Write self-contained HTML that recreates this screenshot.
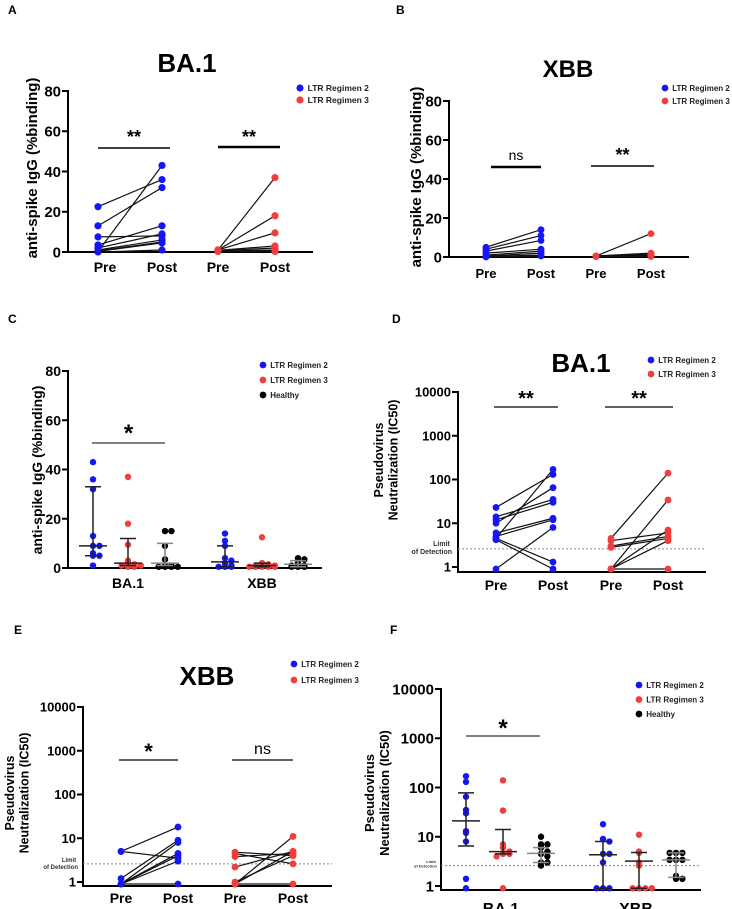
<!DOCTYPE html>
<html><head><meta charset="utf-8">
<style>
html,body{margin:0;padding:0;background:#fff;}
svg{display:block;font-family:"Liberation Sans",Arial,sans-serif;}
</style></head>
<body>
<svg id="fig" width="732" height="909" viewBox="0 0 732 909" xmlns="http://www.w3.org/2000/svg"></svg>
<script>
// ---------- DATA ----------
const aBluePre  = [22.5, 13, 7.5, 3.5, 2, 1, 0.5, 0.3, 0.2, 0];
const aBluePost = [36, 32, 8, 13, 9, 6, 5, 4.5, 43, 1];
const aRedPre   = [1, 1, 1, 0.8, 0.6, 0.5, 0.4, 0.3];
const aRedPost  = [37, 18, 9.5, 3, 2, 1, 0.5, 0.3];
const bBluePre  = [5, 4, 3, 2, 1, 0.5, 0.3, 0];
const bBluePost = [14, 11, 8.5, 4, 3, 2, 1, 0.5];
const bRedPre   = [0.5, 0.5, 0.5, 0.4, 0.3, 0.2];
const bRedPost  = [12, 2, 1.5, 1, 0.5, 0.3];
const cGroups = ["BA.1", "XBB"];
const cBA1Blue  = [43, 36, 32, 13, 9, 9, 6, 5, 5, 1];
const cBA1Red   = [37, 18, 9.5, 3, 2, 1.5, 1, 1, 0.5, 0.5];
const cBA1Black = [15, 15, 9, 3.5, 1, 1, 0.5, 0.5, 0.5, 0.5];
const cXBBBlue  = [14, 11, 9, 4, 3, 2, 1, 0.5, 0.5, 0.5];
const cXBBRed   = [12.5, 2, 1.5, 1, 1, 0.5, 0.5, 0.5, 0.5, 0.5];
const cXBBBlack = [4, 3.5, 2, 1, 1, 0.5, 0.5, 0.5];
const cMedians  = [9, 2, 2, 2.5, 1, 1.5];
const cLow      = [5, 1, 1, 0.5, 0.5, 0.5];
const cHigh     = [33, 12, 10, 9, 2, 3];
const dBluePre  = [23, 14, 12, 10, 6, 5, 4.5, 4.5, 4.2, 0.9];
const dBluePost = [130, 35, 30, 65, 13, 12, 170, 1.3, 0.9, 8];
const dRedPre   = [4.5, 4, 3, 2.8, 0.9, 0.9, 0.9, 0.9];
const dRedPost  = [140, 6, 5, 4.5, 34, 7, 4, 0.9];
const eBluePre  = [5, 5, 1.2, 0.9, 0.9, 0.9, 0.9, 0.9];
const eBluePost = [18, 3.5, 9, 8, 4.5, 4, 3, 0.9];
const eRedPre   = [4.8, 4.5, 3.8, 2.2, 1, 0.9, 0.9, 0.9];
const eRedPost  = [4, 2.6, 4.5, 5, 4, 11, 5, 0.9];
const fGroups = ["BA.1", "XBB"];
const fBA1Blue  = [170, 130, 65, 35, 30, 13, 12, 8, 1.4, 0.9];
const fBA1Red   = [140, 34, 7, 6, 5, 4.5, 4.5, 4, 0.9];
const fBA1Black = [10, 7, 7, 6, 5, 4.5, 4, 3, 3, 2.6];
const fXBBBlue  = [18, 9, 8, 4.5, 4.5, 3, 0.9, 0.9, 0.9];
const fXBBRed   = [11, 5, 4.7, 3, 2.6, 0.9, 0.9, 0.9, 0.9];
const fXBBBlack = [4.7, 4.7, 4.7, 3.4, 3.4, 3.4, 1.6, 1.4, 1.4];
const fMedians  = [21, 5, 4.6, 4.3, 3.2, 3.4];
const fLow      = [6.5, 4.5, 3, 0.9, 0.9, 1.5];
const fHigh     = [78, 14, 6, 8, 4.8, 4.7];
const linTicks = [0, 20, 40, 60, 80];
const logTicks = [1, 10, 100, 1000, 10000];
const lodValue = 2.6;

// ---------- HELPERS ----------
const NS = "http://www.w3.org/2000/svg";
const fig = document.getElementById("fig");
const BLUE = "#1616f5", RED = "#f23d3d", BLACK = "#000";
function mk(tag, attrs, parent) {
  const e = document.createElementNS(NS, tag);
  for (const k in attrs) e.setAttribute(k, attrs[k]);
  (parent || fig).appendChild(e);
  return e;
}
function txt(s, attrs, parent) { const e = mk("text", attrs, parent); e.textContent = s; return e; }
function linScale(y0, y80) { return v => y0 + (y80 - y0) * v / 80; }
function logScale(y1, y10000) { return v => y1 + (y10000 - y1) * Math.log10(v) / 4; }

function panel(name) {
  const g = mk("g", {});
  
  
  return g;
}
function axes(g, ax, top, bottom, xEnd, ticks, Y, fs) {
  const a = mk("line", {x1: ax, y1: top - 1, x2: ax, y2: bottom, stroke: "#000", "stroke-width": 2}, g);
  
  
  const b = mk("line", {x1: ax - 1, y1: bottom, x2: xEnd, y2: bottom, stroke: "#000", "stroke-width": 2}, g);
  
  
  ticks.forEach(t => {
    mk("line", {x1: ax - 6, x2: ax, y1: Y(t), y2: Y(t), stroke: "#000", "stroke-width": 2}, g);
    const l = txt(String(t), {x: ax - 7, y: Y(t) + fs * 0.36, "text-anchor": "end", "font-size": fs, "font-weight": "bold"}, g);
    
    
  });
}
function ytitle(g, lines, x, cy, fs) {
  lines.forEach((s, i) => {
    const t = txt(s, {x: 0, y: 0, "text-anchor": "middle", "font-size": fs, "font-weight": "bold",
      transform: `translate(${x + i * fs * 1.15},${cy}) rotate(-90)`}, g);
    
    
  });
}
function legend(g, x, y, items, fs, gap) {
  items.forEach((it, i) => {
    const d = mk("circle", {cx: x, cy: y + i * gap, r: fs * 0.42, fill: it[1]}, g);
    
    
    const t = txt(it[0], {x: x + fs * 0.9, y: y + i * gap + fs * 0.36, "font-size": fs, "font-weight": "bold", fill: "#222"}, g);
    
    
  });
}
function sig(g, label, x1, x2, y, ty, fs, sw) {
  const l = mk("line", {x1, x2, y1: y, y2: y, stroke: "#000", "stroke-width": sw || 1.5}, g);
  
  
  const t = txt(label, {x: (x1 + x2) / 2, y: ty, "text-anchor": "middle", "font-size": fs, "font-weight": label === "ns" ? "normal" : "bold"}, g);
  
  
}
function xlabels(g, labels, xs, y, fs) {
  labels.forEach((s, i) => {
    const t = txt(s, {x: xs[i], y, "text-anchor": "middle", "font-size": fs, "font-weight": "bold"}, g);
    
    
  });
}
function paired(g, pre, post, x1, x2, Y, color, r) {
  pre.forEach((v, i) => {
    const l = mk("line", {x1, x2, y1: Y(v), y2: Y(post[i]), stroke: "#111", "stroke-width": 1.2}, g);
    
    
  });
  pre.forEach(v => {
    const c = mk("circle", {cx: x1, cy: Y(v), r, fill: color}, g);
    
    
  });
  post.forEach(v => {
    const c = mk("circle", {cx: x2, cy: Y(v), r, fill: color}, g);
    
    
  });
}
function scatter(g, vals, cx, Y, color, r, med, lo, hi, errColor) {
  const seen = {};
  vals.forEach((v, i) => {
    const key = Math.round(Y(v) / (r * 1.6));
    const n = seen[key] = (seen[key] || 0) + 1;
    const off = n === 1 ? 0 : (n % 2 === 0 ? 1 : -1) * Math.floor(n / 2) * r * 2;
    const c = mk("circle", {cx: cx + off, cy: Y(v), r, fill: color}, g);
    
    
  });
  const ec = errColor || "#222";
  const e = mk("path", {d: `M${cx},${Y(hi)}V${Y(lo)}M${cx - 8},${Y(hi)}H${cx + 8}M${cx - 8},${Y(lo)}H${cx + 8}M${cx - 14},${Y(med)}H${cx + 14}`,
    stroke: ec, "stroke-width": 1.5, fill: "none"}, g);
  
  
}
function letter(s, x, y) {
  const t = txt(s, {x, y, "font-size": 12, "font-weight": "bold"});
  
  
}
function title(g, s, x, y, fs) {
  const t = txt(s, {x, y, "text-anchor": "middle", "font-size": fs, "font-weight": "bold"}, g);
  
  
}
function lod(g, ax, xEnd, y, lx, ly, fs) {
  const l = mk("line", {x1: ax, x2: xEnd, y1: y, y2: y, stroke: "#888", "stroke-width": 1, "stroke-dasharray": "2,2"}, g);
  
  
  const t1 = txt("Limit", {x: lx - fs * 1.5, y: ly, "text-anchor": "middle", "font-size": fs, "font-weight": "bold", fill: "#333"}, g);
  
  
  const t2 = txt("of Detection", {x: lx, y: ly + fs * 1.15, "text-anchor": "end", "font-size": fs, "font-weight": "bold", fill: "#333"}, g);
  
  
}
const L2 = [["LTR Regimen 2", BLUE], ["LTR Regimen 3", RED]];
const L3 = [["LTR Regimen 2", BLUE], ["LTR Regimen 3", RED], ["Healthy", BLACK]];
const PP = ["Pre", "Post", "Pre", "Post"];

// ---------- PANEL A ----------
letter("A", 8, 14);
(function () {
  const g = panel("panel-a-ba1-igg");
  const Y = linScale(252, 91);
  const xs = [98, 162, 218, 275];
  title(g, "BA.1", 187, 72, 26);
  axes(g, 68, 91, 252, 313, linTicks, Y, 15);
  ytitle(g, ["anti-spike IgG (%binding)"], 37, 168, 15);
  legend(g, 300, 88, L2, 8.5, 12);
  sig(g, "**", 98, 170, 148, 143, 18, 1.5);
  sig(g, "**", 218, 280, 147, 143, 18, 2.5);
  paired(g, aBluePre, aBluePost, xs[0], xs[1], Y, BLUE, 3.6);
  paired(g, aRedPre, aRedPost, xs[2], xs[3], Y, RED, 3.6);
  xlabels(g, PP, [105, 162, 218, 275], 272, 14);
})();

// ---------- PANEL B ----------
letter("B", 396, 14);
(function () {
  const g = panel("panel-b-xbb-igg");
  const Y = linScale(257, 101);
  const xs = [486, 541, 596, 651];
  title(g, "XBB", 568, 77, 24);
  axes(g, 449, 101, 257, 689, linTicks, Y, 15);
  ytitle(g, ["anti-spike IgG (%binding)"], 421, 177, 15);
  legend(g, 665, 88, L2, 8, 13);
  sig(g, "ns", 491, 541, 167, 160, 14, 2.5);
  sig(g, "**", 591, 654, 166, 161, 18, 1.5);
  paired(g, bBluePre, bBluePost, xs[0], xs[1], Y, BLUE, 3.4);
  paired(g, bRedPre, bRedPost, xs[2], xs[3], Y, RED, 3.4);
  xlabels(g, PP, [486, 541, 596, 651], 278, 13);
})();

// ---------- PANEL C ----------
letter("C", 8, 323);
(function () {
  const g = panel("panel-c-igg-groups");
  const Y = linScale(568, 371);
  const cx = [93, 128, 165, 225, 262, 298];
  const sets = [cBA1Blue, cBA1Red, cBA1Black, cXBBBlue, cXBBRed, cXBBBlack];
  const cols = [BLUE, RED, BLACK, BLUE, RED, BLACK];
  axes(g, 68, 371, 568, 322, linTicks, Y, 14);
  ytitle(g, ["anti-spike IgG (%binding)"], 42, 470, 14);
  legend(g, 263, 365, L3, 8, 15);
  sig(g, "*", 92, 165, 443, 441, 24, 1);
  sets.forEach((s, i) => scatter(g, s, cx[i], Y, cols[i], 3.2, cMedians[i], cLow[i], cHigh[i], i === 2 || i === 5 ? "#888" : "#222"));
  xlabels(g, cGroups, [128, 262], 588, 14);
})();

// ---------- PANEL D ----------
letter("D", 392, 323);
(function () {
  const g = panel("panel-d-ba1-neutralization");
  const Y = logScale(567, 392);
  const xs = [496, 553, 611, 668];
  title(g, "BA.1", 581, 372, 26);
  axes(g, 458, 392, 572, 706, logTicks, Y, 13);
  ytitle(g, ["Pseudovirus", "Neutralization (IC50)"], 383, 460, 12.5);
  legend(g, 651, 360, L2, 8, 14);
  sig(g, "**", 494, 558, 407, 405, 20, 1.2);
  sig(g, "**", 605, 673, 407, 405, 20, 1.2);
  lod(g, 458, 706, Y(lodValue), 452, 546, 7);
  paired(g, dBluePre, dBluePost, xs[0], xs[1], Y, BLUE, 3.4);
  paired(g, dRedPre, dRedPost, xs[2], xs[3], Y, RED, 3.4);
  xlabels(g, PP, xs, 590, 14);
})();

// ---------- PANEL E ----------
letter("E", 14, 634);
(function () {
  const g = panel("panel-e-xbb-neutralization");
  const Y = logScale(882, 707);
  const xs = [121, 178, 235, 293];
  title(g, "XBB", 207, 685, 26);
  axes(g, 83, 707, 886, 332, logTicks, Y, 13);
  ytitle(g, ["Pseudovirus", "Neutralization (IC50)"], 14, 793, 12.5);
  legend(g, 294, 664, L2, 8, 16);
  sig(g, "*", 119, 178, 760, 759, 22, 1.2);
  sig(g, "ns", 232, 293, 760, 754, 16, 1.2);
  lod(g, 83, 332, Y(lodValue), 78, 862, 6);
  paired(g, eBluePre, eBluePost, xs[0], xs[1], Y, BLUE, 3.4);
  paired(g, eRedPre, eRedPost, xs[2], xs[3], Y, RED, 3.4);
  xlabels(g, PP, xs, 903, 14);
})();

// ---------- PANEL F ----------
letter("F", 390, 634);
(function () {
  const g = panel("panel-f-neutralization-groups");
  const Y = logScale(886, 689);
  const cx = [466, 503, 541, 603, 639, 676];
  const sets = [fBA1Blue, fBA1Red, fBA1Black, fXBBBlue, fXBBRed, fXBBBlack];
  const cols = [BLUE, RED, BLACK, BLUE, RED, BLACK];
  axes(g, 441, 689, 890, 701, logTicks, Y, 15);
  ytitle(g, ["Pseudovirus", "Neutralization (IC50)"], 374, 793, 13);
  legend(g, 639, 685, L3, 8, 14.5);
  sig(g, "*", 466, 540, 736, 736, 24, 1);
  lod(g, 441, 701, Y(lodValue), 437, 863, 4);
  sets.forEach((s, i) => scatter(g, s, cx[i], Y, cols[i], 3.2, fMedians[i], fLow[i], fHigh[i], i === 2 || i === 5 ? "#888" : "#222"));
  xlabels(g, fGroups, [501, 636], 914, 16);
})();
</script>
</body></html>
